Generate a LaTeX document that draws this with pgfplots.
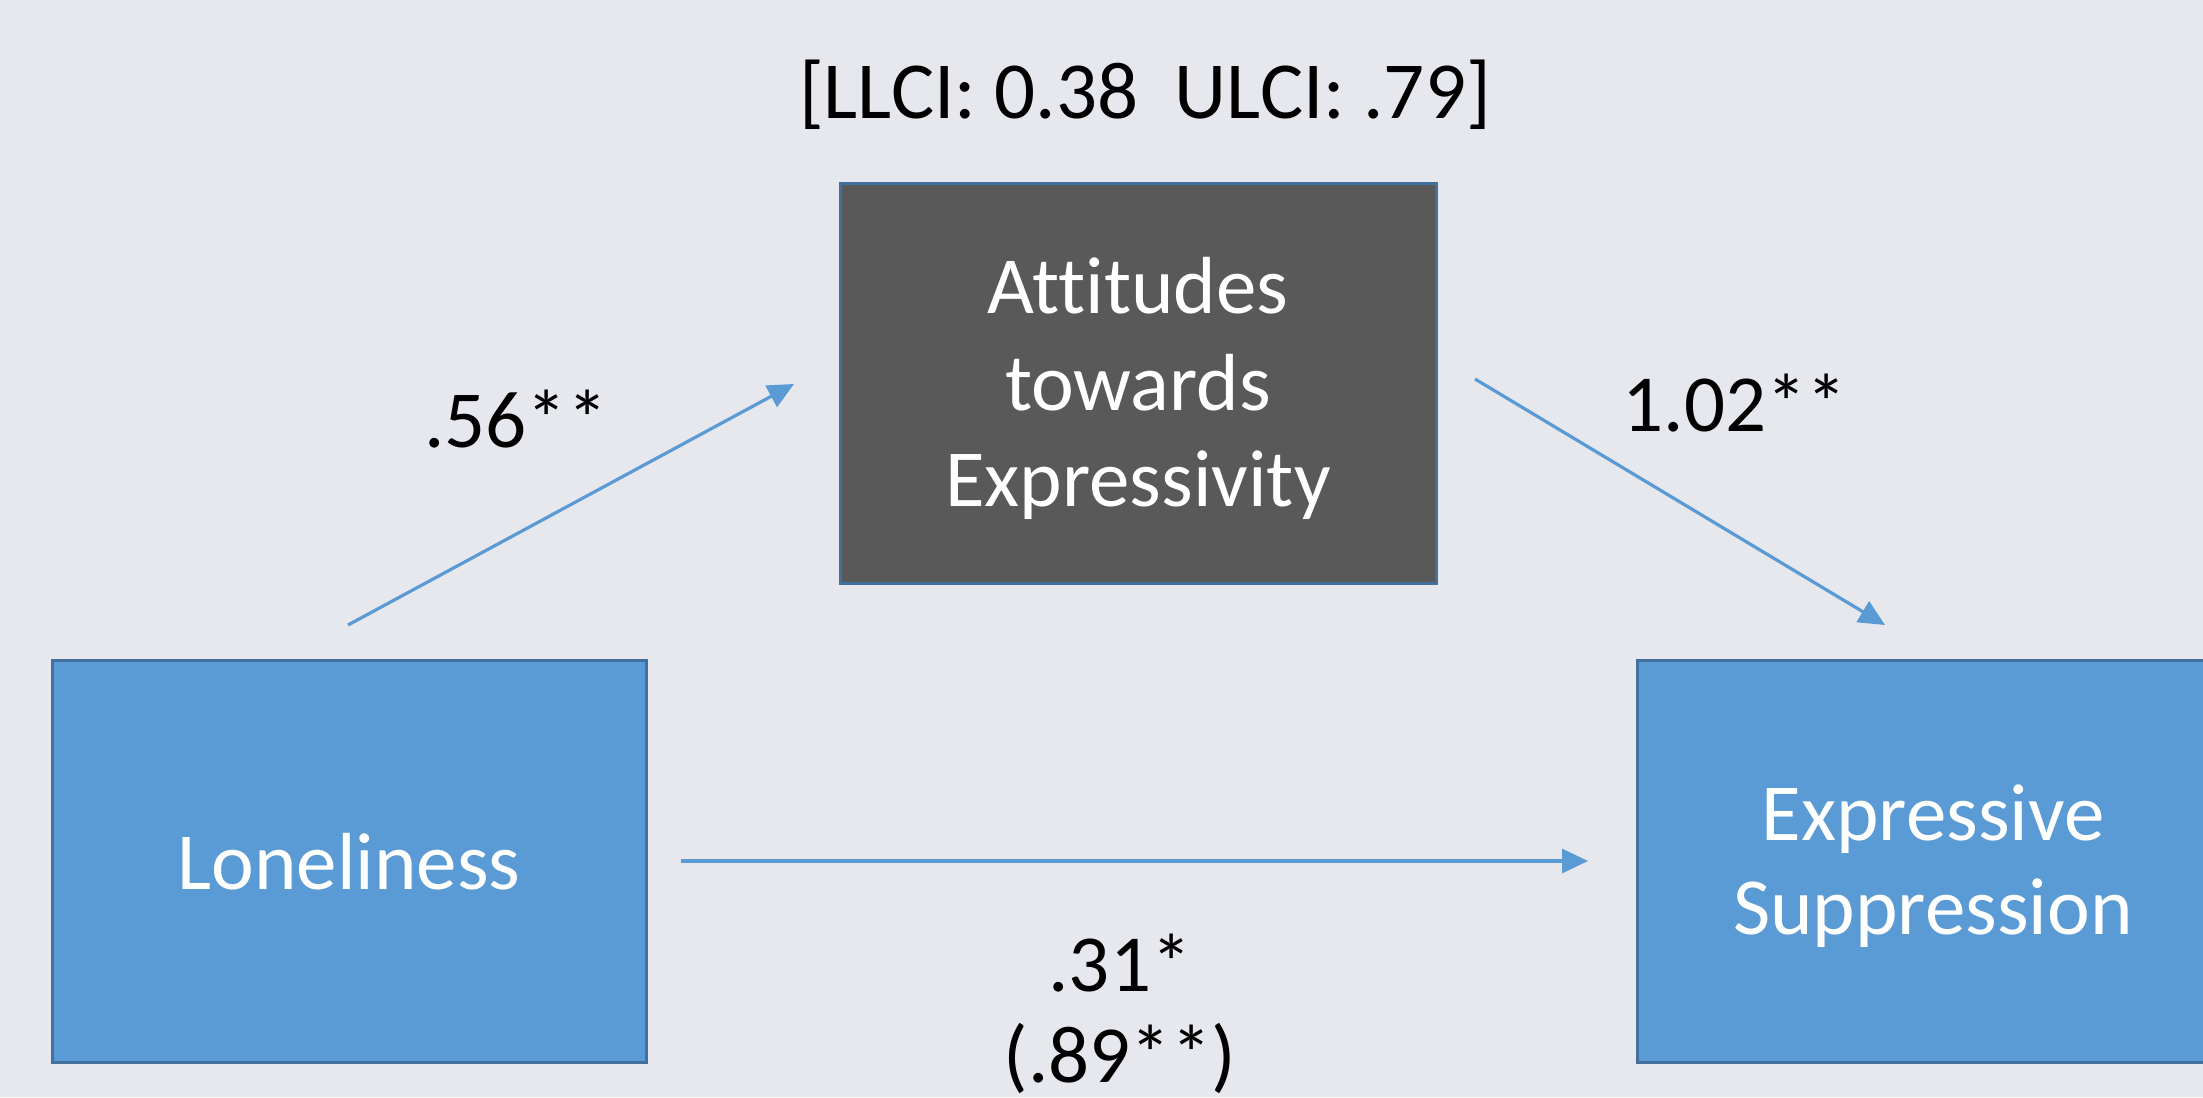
\documentclass[border=0pt]{standalone}
\usepackage{pgfplots}
\pgfplotsset{compat=1.18}
\usepackage{fontspec}
\setmainfont[Ligatures=NoCommon]{Carlito}
\usetikzlibrary{arrows.meta}
\definecolor{bg}{HTML}{E7E8ED}
\definecolor{boxblue}{HTML}{5B9BD5}
\definecolor{boxedge}{HTML}{41719C}
\definecolor{darkbox}{HTML}{595959}
\definecolor{arrowc}{HTML}{5B9BD5}
\tikzset{lbl/.style={font=\fontsize{40.5}{48}\selectfont, inner sep=0pt}}
\begin{document}
\begin{tikzpicture}
\begin{axis}[
  width=1101.5pt, height=548.5pt, scale only axis,
  xmin=0, xmax=2203, ymin=0, ymax=1097, y dir=reverse,
  hide axis, clip=true,
]
% background
\addplot[fill=bg, draw=none] coordinates {(0,0) (2203,0) (2203,1097) (0,1097) (0,0)};
% mediator box
\addplot[fill=darkbox, draw=boxedge, line width=1.5pt] coordinates {(840,183) (1436,183) (1436,583) (840,583) (840,183)} -- cycle;
% Loneliness box
\addplot[fill=boxblue, draw=boxedge, line width=1.5pt] coordinates {(52,660) (646,660) (646,1062) (52,1062) (52,660)} -- cycle;
% Expressive suppression box (cut at right edge)
\addplot[fill=boxblue, draw=none] coordinates {(1637,660) (2203,660) (2203,1062) (1637,1062) (1637,660)};
\addplot[draw=boxedge, line width=1.5pt] coordinates {(2203,660) (1637,660) (1637,1062) (2203,1062)};
% arrows
\addplot[arrowc, line width=1.6pt, -{Triangle[length=13pt,width=12pt]}] coordinates {(348,625) (794,384)};
\addplot[arrowc, line width=1.6pt, -{Triangle[length=13pt,width=12pt]}] coordinates {(1475,379) (1885,625)};
\addplot[arrowc, line width=1.6pt, -{Triangle[length=13pt,width=12pt]}] coordinates {(681,861) (1588,861)};
% texts
\node[lbl, anchor=base] at (axis cs:1145,119) {[LLCI: 0.38\ \ ULCI: .79]};
\node[lbl, anchor=base, white] at (axis cs:1138,313) {Attitudes};
\node[lbl, anchor=base, white] at (axis cs:1138,410) {towards};
\node[lbl, anchor=base, white] at (axis cs:1138,506) {Expressivity};
\node[lbl, anchor=base, white] at (axis cs:349,889) {Loneliness};
\node[lbl, anchor=base, white] at (axis cs:1933,840) {Expressive};
\node[lbl, anchor=base, white] at (axis cs:1933,934) {Suppression};
\node[lbl, anchor=base] at (axis cs:516,447) {.56**};
\node[lbl, anchor=base] at (axis cs:1735,431) {1.02**};
\node[lbl, anchor=base] at (axis cs:1120,991) {.31*};
\node[lbl, anchor=base] at (axis cs:1120,1082) {(.89**)};
\end{axis}
\pgfresetboundingbox
\path (current axis.south west) rectangle (current axis.north east);
\end{tikzpicture}
\end{document}
